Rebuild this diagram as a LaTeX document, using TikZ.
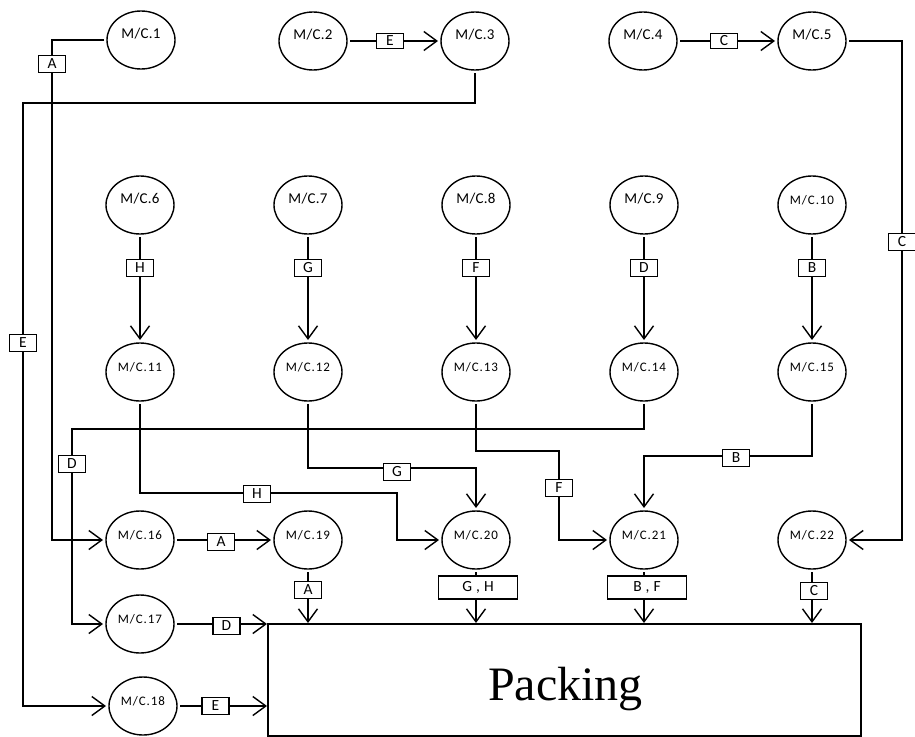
\documentclass[tikz,border=0pt]{standalone}
\usepackage{fontspec}
\setmainfont{Carlito}
\newfontfamily\packfont{Liberation Serif}
\newfontfamily\mcfontA{Carlito}[LetterSpace=2]
\newfontfamily\mcfontB{Carlito}[LetterSpace=7]
\usetikzlibrary{arrows.meta,shapes.geometric}

\newcommand\mcsizeA{\mcfontA\fontsize{15pt}{17pt}\selectfont}
\newcommand\mcsizeB{\mcfontB\fontsize{13pt}{15pt}\selectfont}
\newcommand\tagsize{\fontsize{15.5pt}{17pt}\selectfont}

\tikzset{
  mc/.style={ellipse, draw, line width=1.4pt, minimum width=68pt, minimum height=58pt,
             inner sep=0pt, outer sep=3pt},
  mctxt/.style={font=\mcsizeA, yshift=6pt},
  mctxtb/.style={font=\mcsizeB, yshift=5pt},
  tag/.style={draw, fill=white, line width=1.2pt, inner sep=0pt, minimum width=27pt,
              minimum height=17pt, font=\tagsize},
  toptag/.style={tag, minimum height=15pt},
  widetag/.style={tag, minimum width=79pt, minimum height=23pt},
  flow/.style={line width=1.4pt, -{Straight Barb[length=13pt,width=19pt]}},
}

\begin{document}
\begin{tikzpicture}[x=1pt, y=-1pt]
\useasboundingbox (0,0) rectangle (915,736);

% machines, top row
\node[mc, label={[mctxt]center:M/C.1}] (m1) at (141,40) {};
\node[mc, label={[mctxt]center:M/C.2}] (m2) at (313,41) {};
\node[mc, label={[mctxt]center:M/C.3}] (m3) at (475,41) {};
\node[mc, label={[mctxt]center:M/C.4}] (m4) at (643,41) {};
\node[mc, label={[mctxt]center:M/C.5}] (m5) at (812,41) {};

% machines, second row
\node[mc, label={[mctxt]center:M/C.6}] (m6) at (140,205) {};
\node[mc, label={[mctxt]center:M/C.7}] (m7) at (308,205) {};
\node[mc, label={[mctxt]center:M/C.8}] (m8) at (476,205) {};
\node[mc, label={[mctxt]center:M/C.9}] (m9) at (644,205) {};
\node[mc, label={[mctxtb]center:M/C.10}] (m10) at (812,205) {};

% machines, third row
\node[mc, label={[mctxtb]center:M/C.11}] (m11) at (140,372) {};
\node[mc, label={[mctxtb]center:M/C.12}] (m12) at (308,372) {};
\node[mc, label={[mctxtb]center:M/C.13}] (m13) at (476,372) {};
\node[mc, label={[mctxtb]center:M/C.14}] (m14) at (644,372) {};
\node[mc, label={[mctxtb]center:M/C.15}] (m15) at (812,372) {};

% machines, fourth row
\node[mc, label={[mctxtb]center:M/C.16}] (m16) at (140,540) {};
\node[mc, label={[mctxtb]center:M/C.19}] (m19) at (308,540) {};
\node[mc, label={[mctxtb]center:M/C.20}] (m20) at (476,540) {};
\node[mc, label={[mctxtb]center:M/C.21}] (m21) at (644,540) {};
\node[mc, label={[mctxtb]center:M/C.22}] (m22) at (812,540) {};

% machines feeding packing from the left
\node[mc, label={[mctxtb]center:M/C.17}] (m17) at (140,624) {};
\node[mc, label={[mctxtb]center:M/C.18}] (m18) at (143,706) {};

% packing station
\node[draw, line width=2.2pt, minimum width=593pt, minimum height=112pt,
      inner sep=0pt, anchor=north west] (pk) at (267,623) {};
\node[font=\packfont\fontsize{48pt}{50pt}\selectfont, anchor=base, inner sep=0pt]
      (pktxt) at (565.5,700) {Packing};

% route bends
\coordinate (xA) at (52,0);
\coordinate (yE) at (0,103);
\coordinate (xE) at (23,0);
\coordinate (xC) at (902,0);
\coordinate (h1) at (397,493);
\coordinate (g1) at (476,468);
\coordinate (f1) at (559,451);
\coordinate (d1) at (72,429);
\coordinate (b1) at (644,456);

% connectors
\draw[flow] (m1.west) -| (xA |- m16.west) -- (m16.west);
\draw[flow] (m2.east) -- (m3.west);
\draw[flow] (m3.south) -- (m3.south |- yE) -| (xE |- m18.west) -- (m18.west);
\draw[flow] (m4.east) -- (m5.west);
\draw[flow] (m5.east) -| (xC |- m22.east) -- (m22.east);

\draw[flow] (m6.south) -- (m11.north);
\draw[flow] (m7.south) -- (m12.north);
\draw[flow] (m8.south) -- (m13.north);
\draw[flow] (m9.south) -- (m14.north);
\draw[flow] (m10.south) -- (m15.north);

\draw[flow] (m11.south) |- (h1) |- (m20.west);
\draw[flow] (m12.south) |- (g1) -- (m20.north);
\draw[flow] (m13.south) |- (f1) |- (m21.west);
\draw[flow] (m14.south) |- (d1) |- (m17.west);
\draw[flow] (m15.south) |- (b1) -- (m21.north);

\draw[flow] (m16.east) -- (m19.west);
\draw[flow] (m19.south) -- (m19.south |- pk.north);
\draw[flow] (m20.south) -- (m20.south |- pk.north);
\draw[flow] (m21.south) -- (m21.south |- pk.north);
\draw[flow] (m22.south) -- (m22.south |- pk.north);
\draw[flow] (m17.east) -- (m17.east -| pk.west);
\draw[flow] (m18.east) -- (m18.east -| pk.west);

% part tags on the connectors
\node[tag] (tA1) at (52,64) {A};
\node[toptag] (tE1) at (390,41) {E};
\node[toptag] (tC1) at (724,41) {C};
\node[tag] (tE2) at (23,343) {E};
\node[tag] (tC2) at (902,242) {C};

\node[tag] (tH1) at (140,268) {H};
\node[tag] (tG1) at (308,268) {G};
\node[tag] (tF1) at (476,268) {F};
\node[tag] (tD1) at (644,268) {D};
\node[tag] (tB1) at (812,268) {B};

\node[tag] (tH2) at (257,494) {H};
\node[tag] (tG2) at (397,472) {G};
\node[tag] (tF2) at (559,488) {F};
\node[tag] (tD2) at (72,464) {D};
\node[tag] (tB2) at (736,458) {B};

\node[tag] (tA2) at (221,542) {A};
\node[tag] (tA3) at (308,590) {A};
\node[widetag] (tGH) at (478,587.5) {G\hspace{4pt},\hspace{4pt}H};
\node[widetag] (tBF) at (647,587.5) {B\hspace{4pt},\hspace{4pt}F};
\node[tag] (tC3) at (814,591) {C};
\node[tag] (tD3) at (226.5,626) {D};
\node[tag] (tE3) at (215.5,706) {E};

\end{tikzpicture}
\end{document}
